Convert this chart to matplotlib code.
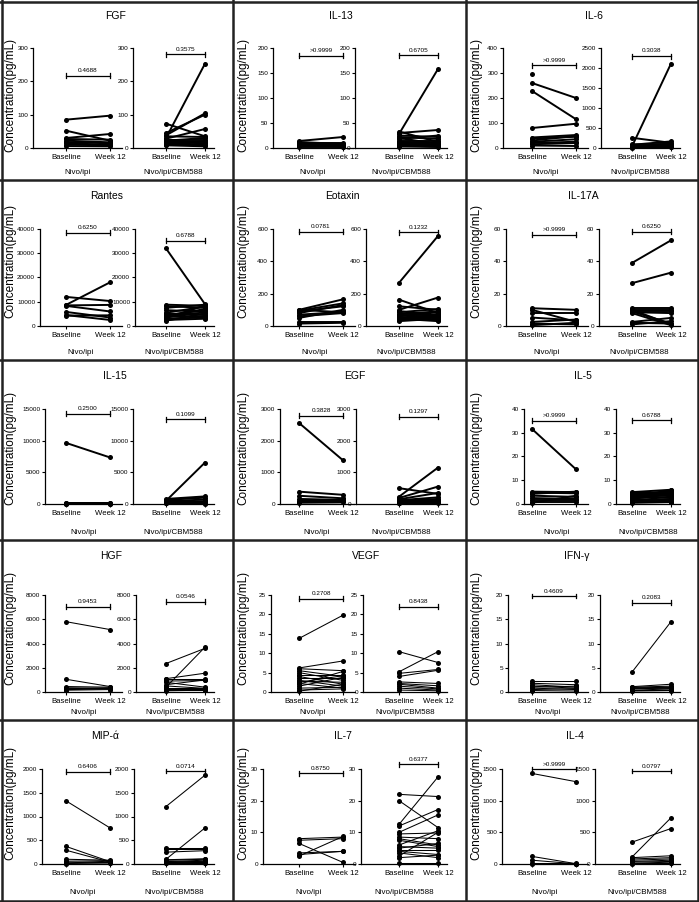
import numpy as np
import matplotlib
matplotlib.use('Agg')
import matplotlib.pyplot as plt
from matplotlib.lines import Line2D

plt.rcParams['font.family'] = ['Liberation Sans', 'DejaVu Sans']

nan = np.nan

# (baseline, week 12) pairs, one per patient
fgf_nivo = [(85, 97), (52, 22), (30, 42), (27, 25), (22, 17), (18, 14), (14, 10), (10, 8), (6, 5)]
fgf_cbm = [(73, 35), (45, 100), (30, 253), (38, 104), (28, 57), (35, 33), (25, 25), (22, 30),
           (20, 18), (18, 14), (15, 10), (12, 20), (10, 8), (8, 5)]
il13_nivo = [(14, 22), (12, 8), (10, 10), (8, 6), (6, 4), (4, 5), (3, 3), (9, 2)]
il13_cbm = [(28, 158), (33, 12), (30, 36), (25, 22), (22, 18), (20, 8), (18, 25), (15, 15),
            (12, 10), (10, 6), (8, 5), (6, 4), (5, 3), (4, 12), (3, 2)]
il6_nivo = [(298, nan), (260, 200), (228, 115), (80, 97), (42, 52), (38, 45), (30, 48),
            (25, 35), (20, 25), (15, 20), (10, 8)]
il6_cbm = [(40, 2110), (255, 130), (80, 165), (60, 110), (50, 90), (40, 70), (30, 50),
           (20, 40), (15, 30), (10, 20), (90, 100)]
rantes_nivo = [(12000, 10300), (8700, 18000), (8500, 8700), (8300, 6000), (5800, 3500),
               (4500, 2500), (4300, 4400)]
rantes_cbm = [(32000, 9000), (8800, 8300), (8200, 7500), (7500, 8800), (6500, 6000),
              (5200, 4500), (5000, 3200), (4600, 5500), (4200, 7000), (3800, 4000),
              (3200, 8500), (3000, 3500), (2500, 3000), (2200, 5200), (4500, 6500), (5500, 8000)]
eotaxin_nivo = [(100, 165), (95, 140), (90, 122), (80, 130), (70, 87), (60, 80), (50, 100),
                (25, 25), (15, 20), (100, 85)]
eotaxin_cbm = [(267, 557), (163, 80), (122, 100), (100, 176), (93, 60), (85, 105), (75, 90),
               (70, 70), (65, 50), (60, 85), (55, 40), (50, 60), (45, 30), (40, 75), (35, 55), (30, 45)]
il17a_nivo = [(11, 10), (10, 2.5), (8, 8), (5.2, 3.5), (2.5, 4), (1.5, 1), (0.5, 2)]
il17a_cbm = [(39, 53), (26.5, 33), (11, 11), (10, 10), (9, 9), (8.5, 8), (10, 1), (9, 1.5),
             (8, 0.5), (2.5, 5), (2, 1.5), (1, 3)]
il15_nivo = [(9650, 7350), (150, 150), (100, 80), (50, 60), (20, 20)]
il15_cbm = [(500, 6550), (800, 1200), (650, 1000), (450, 700), (300, 450), (200, 300),
            (150, 200), (100, 100), (350, 50)]
egf_nivo = [(2560, 1380), (390, 290), (260, 180), (160, 130), (110, 80), (70, 120), (40, 50)]
egf_cbm = [(500, 320), (230, 1150), (190, 550), (150, 350), (120, 210), (100, 160), (80, 110),
           (60, 80), (50, 60), (40, 50), (30, 130), (20, 30)]
il5_nivo = [(31.6, 14.6), (5.2, 5), (4.8, 4.5), (4.3, 5.2), (3.5, 3), (2.5, 2.1), (1.5, 1.5),
            (1, 1), (0.5, 3.5)]
il5_cbm = [(5, 6), (4.8, 4), (4.5, 5), (4.2, 3.5), (4, 5.5), (3.5, 4.5), (3, 2.5), (2.5, 3),
           (2.2, 4), (1.8, 2), (1.5, 1.5), (1, 1), (0.5, 0.8), (2.5, 5.8), (4, 1), (3.2, 3.8)]
hgf_nivo = [(5800, 5150), (1050, 450), (450, 400), (350, 300), (300, 280), (250, 350),
            (200, 250), (150, 200)]
hgf_cbm = [(2350, 3600), (1100, 1550), (1050, 1050), (900, 950), (800, 400), (500, 300),
           (400, 3700), (350, 350), (250, 250), (200, 200), (150, 300), (100, 150), (600, 1000)]
vegf_nivo = [(13.8, 19.8), (6.2, 8), (6, 5.5), (5.5, 4), (5, 3), (4.5, 4.5), (4, 2), (3.5, 3.5),
             (3, 1.5), (2.8, 2.5), (2.5, 4.2), (2.2, 1), (2, 5.3), (1.5, 3.8), (1, 1.2),
             (0.5, 0.8), (0.2, 2)]
vegf_cbm = [(10.4, 7.6), (5.2, 10.4), (4.8, 5.8), (4, 5.6), (2.6, 2.2), (2.2, 1.6), (2, 1),
            (1.5, 0.8), (1, 0.5), (0.5, 0.3)]
ifng_nivo = [(2.3, 2.3), (1.8, 1.5), (1.5, 1), (1.2, 0.8), (1, 1.2), (0.8, 0.5), (0.5, 0.7),
             (0.3, 0.2)]
ifng_cbm = [(4.1, 14.5), (1.1, 1.6), (1, 1.2), (0.9, 0.8), (0.8, 1.0), (0.7, 0.6), (0.6, 0.9),
            (0.5, 0.5), (0.4, 0.4), (0.3, 0.7), (0.2, 0.3)]
mip_nivo = [(1330, 760), (370, 50), (290, 40), (100, 80), (60, 70), (40, 30), (20, 60), (10, 20)]
mip_cbm = [(1210, 1870), (330, 330), (310, 310), (250, 280), (100, 760), (90, 110), (80, 100),
           (60, 50), (50, 80), (40, 30), (30, 40), (20, 20)]
il7_nivo = [(8, 8.5), (7.5, 8), (6.5, 0.5), (3.5, 4), (2.5, 8.7), (3, 4)]
il7_cbm = [(22, 21.3), (20, 11.5), (12.5, 27.5), (12, 17.2), (10, 15.5), (9.5, 9.8), (8.5, 8),
           (8, 6), (7.5, 5.5), (6, 10.5), (5.5, 5), (5, 6.5), (4.5, 4.5), (4, 3), (3.5, 2),
           (2, 2.8), (2.5, 10), (0.3, 0.3)]
il4_nivo = [(1430, 1300), (120, 5), (60, 3), (20, 20), (5, 5)]
il4_cbm = [(345, 560), (110, 730), (100, 130), (80, 100), (60, 80), (40, 60), (30, 40),
           (20, 20), (10, 30), (5, 10)]

titles = ['FGF', 'IL-13', 'IL-6', 'Rantes', 'Eotaxin', 'IL-17A', 'IL-15', 'EGF', 'IL-5',
          'HGF', 'VEGF', 'IFN-γ', 'MIP-ά', 'IL-7', 'IL-4']
y_max_nivo = [300, 200, 400, 40000, 600, 60, 15000, 3000, 40, 8000, 25, 20, 2000, 30, 1500]
y_step_nivo = [100, 50, 100, 10000, 200, 20, 5000, 1000, 10, 2000, 5, 5, 500, 10, 500]
y_max_cbm = [300, 200, 2500, 40000, 600, 60, 15000, 3000, 40, 8000, 25, 20, 2000, 30, 1500]
y_step_cbm = [100, 50, 500, 10000, 200, 20, 5000, 1000, 10, 2000, 5, 5, 500, 10, 500]
p_nivo = ['0.4688', '>0.9999', '>0.9999', '0.6250', '0.0781', '>0.9999', '0.2500', '0.3828',
          '>0.9999', '0.9453', '0.2708', '0.4609', '0.6406', '0.8750', '>0.9999']
p_cbm = ['0.3575', '0.6705', '0.3038', '0.6788', '0.1232', '0.6250', '0.1099', '0.1297',
         '0.6788', '0.0546', '0.8438', '0.2083', '0.0714', '0.6377', '0.0797']
nivo_sets = [fgf_nivo, il13_nivo, il6_nivo, rantes_nivo, eotaxin_nivo, il17a_nivo, il15_nivo,
             egf_nivo, il5_nivo, hgf_nivo, vegf_nivo, ifng_nivo, mip_nivo, il7_nivo, il4_nivo]
cbm_sets = [fgf_cbm, il13_cbm, il6_cbm, rantes_cbm, eotaxin_cbm, il17a_cbm, il15_cbm,
            egf_cbm, il5_cbm, hgf_cbm, vegf_cbm, ifng_cbm, mip_cbm, il7_cbm, il4_cbm]
groups = ['Nivo/ipi', 'Nivo/ipi/CBM588']
cats = ['Baseline', 'Week 12']

# layout (pixels)
W, H = 699, 902
col_x = [0, 233, 466]
row_y = [0, 180, 360, 540, 720]
ax_top = [48, 49, 49, 55, 49]
ax_bot = [148, 146, 144, 152, 144]
ylab_mid = [95, 81, 88, 88, 83]
left_spine = [33, 40, 37, 40, 40, 40, 45, 47, 58, 45, 38, 42, 42, 30, 36]
right_spine = [133, 122, 135, 135, 133, 133, 133, 123, 150, 136, 130, 134, 134, 128, 129]
title_x = [116, 108, 128, 107, 109, 117, 115, 122, 117, 111, 133, 111, 105, 110, 109]
br_nivo = [0.72, 0.925, 0.83, 0.96, 0.97, 0.94, 0.95, 0.93, 0.875, 0.88, 0.96, 0.99, 0.97, 0.955, 1.0]
br_cbm = [0.935, 0.93, 0.92, 0.88, 0.965, 0.97, 0.89, 0.92, 0.88, 0.93, 0.88, 0.92, 0.98, 1.05, 0.98]

fig = plt.figure(figsize=(W / 100, H / 100), dpi=100)


def draw_sub(x0, x1, tb, tw, top, bot, pairs, ymax, step, pval, brf, lw, group, label_y):
    ax = fig.add_axes([x0 / W, 1 - bot / H, (x1 - x0) / W, (bot - top) / H])
    unit = tw - tb
    ax.set_xlim((x0 - tb) / unit, (x1 - tb) / unit)
    ax.set_ylim(0, ymax)
    for b, w in pairs:
        ax.plot([0, 1], [b, w], '-', color='black', lw=lw, clip_on=False, zorder=2)
        ax.plot([0, 1], [b, w], 'o', color='black', ms=3.6, mew=0, clip_on=False, zorder=3)
    for s in ['top', 'right']:
        ax.spines[s].set_visible(False)
    for s in ['left', 'bottom']:
        ax.spines[s].set_linewidth(0.9)
    ticks = np.arange(0, ymax + step / 2, step)
    ax.set_yticks(ticks)
    ax.set_yticklabels([str(int(v)) for v in ticks])
    ax.set_xticks([0, 1])
    ax.set_xticklabels(cats)
    ax.tick_params(axis='y', labelsize=4.6, length=2.5, width=0.8, pad=1)
    ax.tick_params(axis='x', labelsize=5.6, length=2.5, width=0.8, pad=1.5)
    # bracket with p value
    yb = brf * ymax
    cap = 0.025 * ymax
    ax.plot([0, 1], [yb, yb], color='black', lw=0.9, clip_on=False)
    ax.plot([0, 0], [yb - cap, yb + cap], color='black', lw=0.9, clip_on=False)
    ax.plot([1, 1], [yb - cap, yb + cap], color='black', lw=0.9, clip_on=False)
    ax.text(0.5, yb + cap, pval, ha='center', va='bottom', fontsize=4.6)
    ax.set_xlabel(group, fontsize=5.8)
    ax.xaxis.set_label_coords(0.5, -(label_y - bot) / (bot - top))


for i, title in enumerate(titles):
    r, c = divmod(i, 3)
    cx, cy = col_x[c], row_y[r]
    top, bot = cy + ax_top[r], cy + ax_bot[r]
    lw = 1.4 if r < 3 else 0.75
    ls, rs = left_spine[i], right_spine[i]
    lend = min(122, rs - 2)
    draw_sub(cx + ls, cx + lend, cx + 66, cx + 110, top, bot, nivo_sets[i], y_max_nivo[i],
             y_step_nivo[i], p_nivo[i], br_nivo[i], lw, groups[0], cy + 169)
    draw_sub(cx + rs, cx + 214, cx + 166, cx + 205, top, bot, cbm_sets[i], y_max_cbm[i],
             y_step_cbm[i], p_cbm[i], br_cbm[i], lw, groups[1], cy + 169)
    fig.text((cx + title_x[i]) / W, 1 - (cy + 16) / H, title, ha='center', va='center', fontsize=7.5)
    fig.text((cx + 10) / W, 1 - (cy + ylab_mid[r]) / H, 'Concentration(pg/mL)', rotation=90,
             ha='center', va='center', fontsize=8.5)

# panel borders
bw = 1.8
for x in [1.5, 233, 466, 697.5]:
    fig.add_artist(Line2D([x / W, x / W], [0, 1], color='#222222', lw=bw))
for y in [1.5, 180, 360, 540, 720, 900.5]:
    fig.add_artist(Line2D([0, 1], [1 - y / H, 1 - y / H], color='#222222', lw=bw))

fig.savefig('out.png', dpi=100)
